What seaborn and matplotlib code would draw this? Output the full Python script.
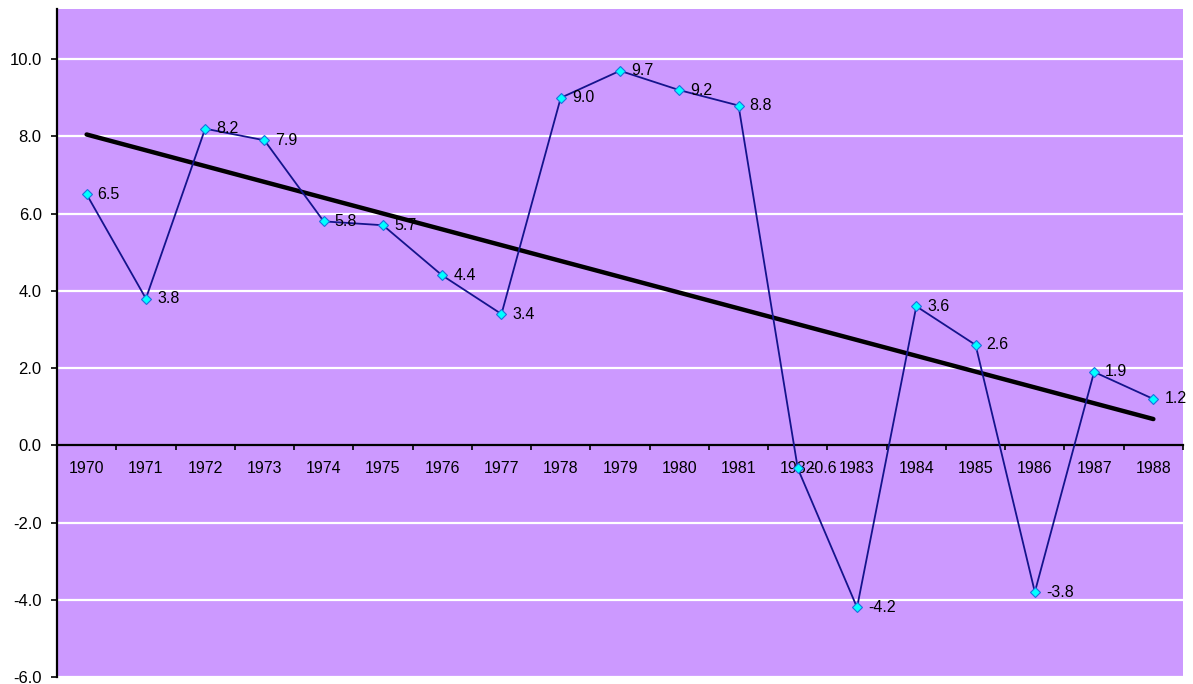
import numpy as np
import pandas as pd
import matplotlib
matplotlib.use("Agg")
import matplotlib.pyplot as plt
import seaborn as sns

years = [str(y) for y in range(1970, 1989)]
values = [6.5, 3.8, 8.2, 7.9, 5.8, 5.7, 4.4, 3.4, 9.0, 9.7, 9.2, 8.8,
          -0.6, -4.2, 3.6, 2.6, -3.8, 1.9, 1.2]
trend_years = ["1970", "1988"]
trend_values = [8.05, 0.68]
y_ticks = [-6.0, -4.0, -2.0, 0.0, 2.0, 4.0, 6.0, 8.0, 10.0]

sns.set_theme(style="white")
plt.rcParams['font.family'] = ['Liberation Sans', 'DejaVu Sans']

df = pd.DataFrame({"pos": np.arange(len(years)), "year": years, "value": values})
tdf = pd.DataFrame({"pos": [years.index(y) for y in trend_years], "value": trend_values})

fig = plt.figure(figsize=(11.93, 6.84), dpi=100)
ax = fig.add_axes([57/1193, 1 - 677/684, (1183 - 57)/1193, (677 - 9)/684])
ax.set_facecolor("#CC99FF")

for t in y_ticks:
    if t != 0:
        ax.axhline(t, color="white", lw=1.6, zorder=1)

sns.lineplot(data=tdf, x="pos", y="value", ax=ax, color="black", lw=3.2, zorder=3)
sns.lineplot(data=df, x="pos", y="value", ax=ax, color="#14148C", lw=1.3,
             marker="D", markersize=5.5, markerfacecolor="#00FFFF",
             markeredgecolor="#1F6FDD", markeredgewidth=0.8, zorder=4)

for i, v in enumerate(values):
    ax.annotate(f"{v:.1f}", (i, v), xytext=(8, 0), textcoords="offset points",
                ha="left", va="center", fontsize=11.5, color="black", zorder=5)

ax.set_xlim(-0.5, len(years) - 0.5)
ax.set_ylim(-6, 11.3)

ax.spines["top"].set_visible(False)
ax.spines["right"].set_visible(False)
ax.spines["left"].set_color("black")
ax.spines["left"].set_linewidth(1.6)
ax.spines["bottom"].set_position(("data", 0))
ax.spines["bottom"].set_color("black")
ax.spines["bottom"].set_linewidth(1.6)

ax.set_yticks(y_ticks)
ax.set_yticklabels([f"{t:.1f}" for t in y_ticks], fontsize=12, color="black")
ax.tick_params(axis="y", direction="out", length=4, width=1.2, color="black", pad=7, left=True)

ax.set_xticks(np.arange(len(years)))
ax.set_xticklabels(years, fontsize=11.5, color="black")
ax.set_xticks(np.arange(-0.5, len(years)), minor=True)
ax.tick_params(axis="x", which="major", length=0, pad=11, bottom=True)
ax.tick_params(axis="x", which="minor", direction="out", length=3.5, width=1.2, color="black", bottom=True)

ax.set_xlabel("")
ax.set_ylabel("")
ax.grid(False)

fig.savefig("out.png", dpi=100)
